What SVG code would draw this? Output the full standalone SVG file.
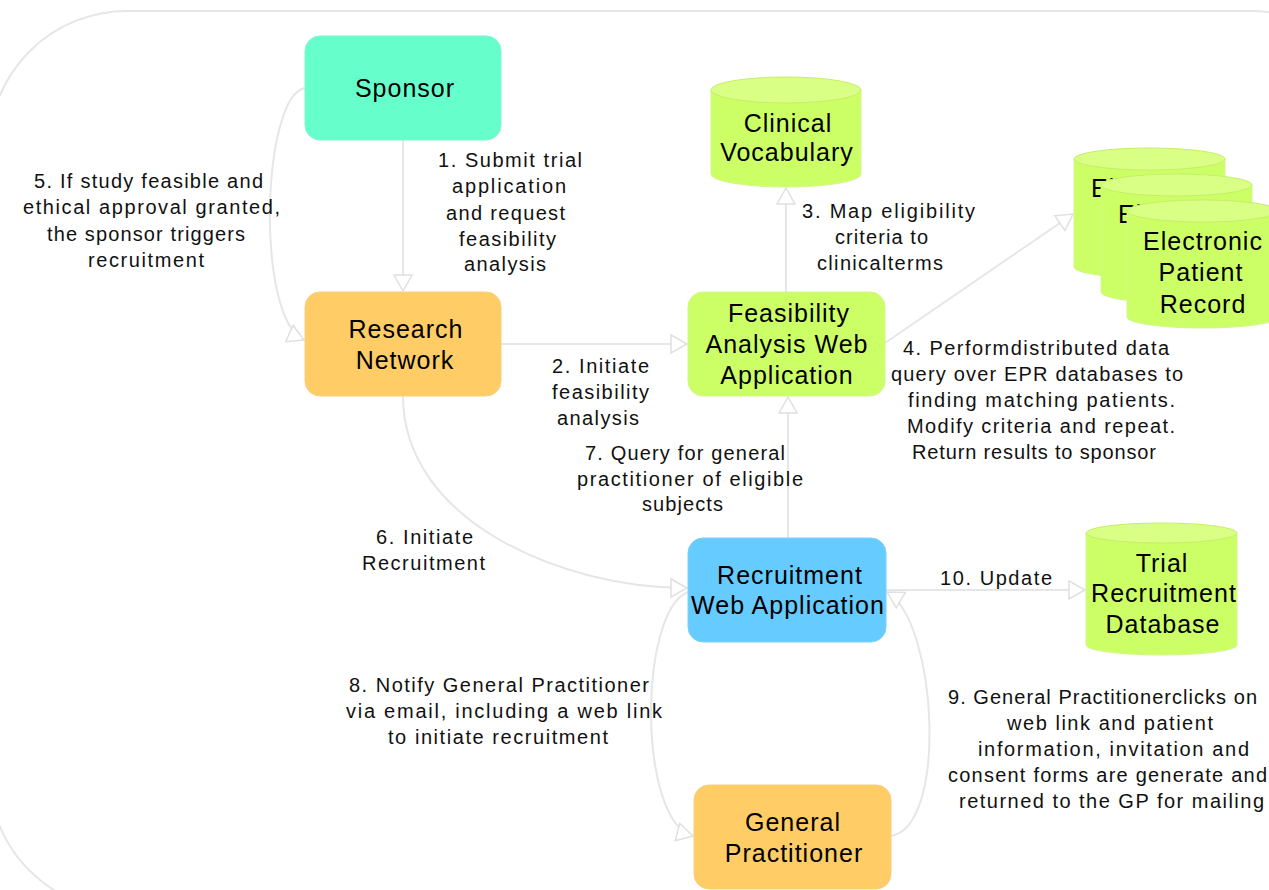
<svg xmlns="http://www.w3.org/2000/svg" width="1269" height="890" viewBox="0 0 1269 890">
<style>
.bg{fill:none;stroke:#e6e6e6;stroke-width:2}
.node text{font-family:"Liberation Sans",Arial,sans-serif;font-size:25px;letter-spacing:1px;fill:#000;text-anchor:middle}
.lbl text{font-family:"Liberation Sans",Arial,sans-serif;font-size:20px;fill:#111;lengthAdjust:spacing}
.edge{fill:none;stroke:#e6e6e6;stroke-width:2;marker-end:url(#arr)}
.body{fill:#ccff66;stroke:#d4f58a;stroke-width:1}
.cap{fill:#d9ff85;stroke:#c6ee6a;stroke-width:1}
</style>
<defs>
<marker id="arr" markerUnits="userSpaceOnUse" markerWidth="20" markerHeight="20" viewBox="0 0 20 20" refX="18" refY="10" orient="auto">
<path d="M2,1 L18,10 L2,19 Z" fill="#fff" stroke="#e0e0e0" stroke-width="1.5"/>
</marker>
</defs>
<rect x="0" y="0" width="1269" height="890" fill="#fff"/>
<rect class="bg" x="-11" y="11" width="1400" height="900" rx="138" ry="138"/>

<g id="connectors">
<path class="edge" d="M403,140 L403,291"/>
<path class="edge" d="M501,344 L687,344"/>
<path class="edge" d="M786,292 L786,188"/>
<path class="edge" d="M885,343 L1073,214"/>
<path class="edge" d="M305,88 C262,95 255,318 304,340"/>
<path class="edge" d="M403,396 C403,520 560,588 687,588"/>
<path class="edge" d="M788,538 L788,397"/>
<path class="edge" d="M688,592 C638,612 638,822 693,836"/>
<path class="edge" d="M890,836 C948,830 938,622 887,592"/>
<path class="edge" d="M886,590 L1085,590"/>
</g>

<g id="sponsor" class="node">
<rect x="305" y="36" width="196" height="104" rx="15" fill="#66ffcc" stroke="#7ef5cf" stroke-width="1"/>
<text x="405" y="97">Sponsor</text>
</g>
<g id="research-network" class="node">
<rect x="305" y="292" width="196" height="104" rx="15" fill="#ffcc66" stroke="#f5d07e" stroke-width="1"/>
<text x="406" y="338">Research</text>
<text x="405" y="369">Network</text>
</g>
<g id="feasibility" class="node">
<rect x="688" y="292" width="197" height="104" rx="15" fill="#ccff66" stroke="#d2f58a" stroke-width="1"/>
<text x="789" y="322">Feasibility</text>
<text x="787" y="353">Analysis Web</text>
<text x="787" y="384">Application</text>
</g>
<g id="recruitment" class="node">
<rect x="688" y="538" width="198" height="104" rx="15" fill="#66ccff" stroke="#7ed0f5" stroke-width="1"/>
<text x="790" y="584">Recruitment</text>
<text x="788" y="614">Web Application</text>
</g>
<g id="gp" class="node">
<rect x="694" y="785" width="197" height="104" rx="15" fill="#ffcc66" stroke="#f5d07e" stroke-width="1"/>
<text x="793" y="831">General</text>
<text x="794" y="862">Practitioner</text>
</g>
<g id="clinical-vocabulary" class="node">
<path class="body" d="M711,90 L711,174 A75,13 0 0 0 861,174 L861,90 Z"/>
<ellipse class="cap" cx="786" cy="90" rx="75" ry="13"/>
<text x="788" y="132">Clinical</text>
<text x="787" y="161">Vocabulary</text>
</g>
<g id="epr-1" class="node">
<path class="body" d="M1074,159 L1074,267 A75.5,11 0 0 0 1225,267 L1225,159 Z"/>
<ellipse class="cap" cx="1149.5" cy="159" rx="75.5" ry="11"/>
<text x="1151" y="197">Electronic</text>
</g>
<g id="epr-2" class="node">
<path class="body" d="M1101,185 L1101,292 A75.5,11 0 0 0 1252,292 L1252,185 Z"/>
<ellipse class="cap" cx="1176.5" cy="185" rx="75.5" ry="11"/>
<text x="1178" y="223">Electronic</text>
</g>
<g id="epr-3" class="node">
<path class="body" d="M1127,211 L1127,317 A75.5,11 0 0 0 1278,317 L1278,211 Z"/>
<ellipse class="cap" cx="1202.5" cy="211" rx="75.5" ry="11"/>
<text x="1203" y="250">Electronic</text>
<text x="1201" y="281">Patient</text>
<text x="1203" y="313">Record</text>
</g>
<g id="trial-db" class="node">
<path class="body" d="M1086,533 L1086,645 A75.5,10 0 0 0 1237,645 L1237,533 Z"/>
<ellipse class="cap" cx="1161.5" cy="533" rx="75.5" ry="10"/>
<text x="1162" y="572">Trial</text>
<text x="1164" y="602">Recruitment</text>
<text x="1163" y="633">Database</text>
</g>

<g id="labels" class="lbl">
<text x="438" y="167" textLength="144" lengthAdjust="spacing">1. Submit trial</text>
<text x="452" y="193" textLength="114" lengthAdjust="spacing">application</text>
<text x="446" y="219.5" textLength="119" lengthAdjust="spacing">and request</text>
<text x="459" y="245.5" textLength="97" lengthAdjust="spacing">feasibility</text>
<text x="464" y="271" textLength="82" lengthAdjust="spacing">analysis</text>

<text x="34" y="188" textLength="229" lengthAdjust="spacing">5. If study feasible and</text>
<text x="23" y="214" textLength="257" lengthAdjust="spacing">ethical approval granted,</text>
<text x="47" y="240.5" textLength="198" lengthAdjust="spacing">the sponsor triggers</text>
<text x="88" y="266.5" textLength="116" lengthAdjust="spacing">recruitment</text>

<text x="552" y="373" textLength="97" lengthAdjust="spacing">2. Initiate</text>
<text x="552" y="399" textLength="97" lengthAdjust="spacing">feasibility</text>
<text x="557" y="425" textLength="82" lengthAdjust="spacing">analysis</text>

<text x="802" y="218" textLength="173" lengthAdjust="spacing">3. Map eligibility</text>
<text x="835" y="244" textLength="93" lengthAdjust="spacing">criteria to</text>
<text x="817" y="269.5" textLength="126" lengthAdjust="spacing">clinicalterms</text>

<text x="903" y="355" textLength="266" lengthAdjust="spacing">4. Performdistributed data</text>
<text x="891" y="381" textLength="292" lengthAdjust="spacing">query over EPR databases to</text>
<text x="908" y="407" textLength="267" lengthAdjust="spacing">finding matching patients.</text>
<text x="907" y="433" textLength="268" lengthAdjust="spacing">Modify criteria and repeat.</text>
<text x="912" y="459" textLength="244" lengthAdjust="spacing">Return results to sponsor</text>

<text x="585" y="460" textLength="200" lengthAdjust="spacing">7. Query for general</text>
<text x="577" y="486" textLength="226" lengthAdjust="spacing">practitioner of eligible</text>
<text x="642" y="511" textLength="81" lengthAdjust="spacing">subjects</text>

<text x="376" y="544" textLength="97" lengthAdjust="spacing">6. Initiate</text>
<text x="362" y="570" textLength="123" lengthAdjust="spacing">Recruitment</text>

<text x="940" y="585" textLength="112" lengthAdjust="spacing">10. Update</text>

<text x="349" y="692" textLength="300" lengthAdjust="spacing">8. Notify General Practitioner</text>
<text x="346" y="718" textLength="316" lengthAdjust="spacing">via email, including a web link</text>
<text x="388" y="744" textLength="220" lengthAdjust="spacing">to initiate recruitment</text>

<text x="948" y="704" textLength="309" lengthAdjust="spacing">9. General Practitionerclicks on</text>
<text x="1007" y="730" textLength="206" lengthAdjust="spacing">web link and patient</text>
<text x="978" y="756" textLength="271" lengthAdjust="spacing">information, invitation and</text>
<text x="948" y="782" textLength="319" lengthAdjust="spacing">consent forms are generate and</text>
<text x="959" y="808" textLength="305" lengthAdjust="spacing">returned to the GP for mailing</text>
</g>
</svg>
